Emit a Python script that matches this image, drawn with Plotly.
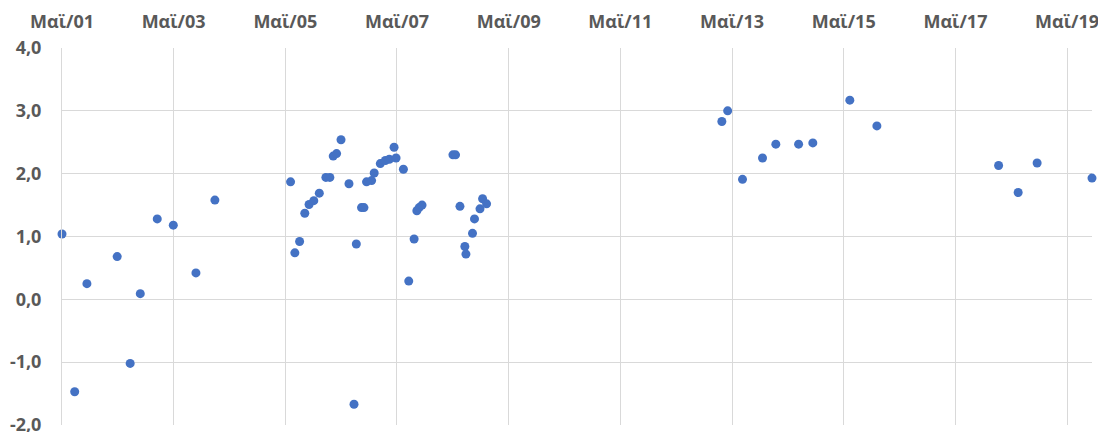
import plotly.graph_objects as go

dates = [
    "2001-05-01", "2001-07-23", "2001-10-11", "2002-04-27", "2002-07-21", "2002-09-25",
    "2003-01-14", "2003-04-29", "2003-09-24", "2004-01-26",
    "2005-06-04", "2005-07-02", "2005-08-02", "2005-09-05", "2005-10-03", "2005-11-03",
    "2005-12-09", "2006-01-21", "2006-02-16", "2006-03-10", "2006-04-01", "2006-04-30",
    "2006-06-21", "2006-07-24", "2006-08-08", "2006-09-11", "2006-09-27", "2006-10-14",
    "2006-11-16", "2006-12-03", "2007-01-12", "2007-02-14", "2007-03-12", "2007-04-12",
    "2007-04-25", "2007-06-12", "2007-07-17", "2007-08-21", "2007-09-08", "2007-09-23",
    "2007-10-12", "2008-05-01", "2008-05-18", "2008-06-16", "2008-07-18", "2008-07-25",
    "2008-09-06", "2008-09-19", "2008-10-25", "2008-11-11", "2008-12-07",
    "2013-02-23", "2013-04-02", "2013-07-08", "2013-11-16", "2014-02-11", "2014-07-10",
    "2014-10-11", "2015-06-10", "2015-12-04", "2018-02-07", "2018-06-15", "2018-10-17",
    "2019-10-11",
]
values = [
    1.04, -1.47, 0.25, 0.68, -1.02, 0.09,
    1.28, 1.18, 0.42, 1.58,
    1.87, 0.74, 0.92, 1.37, 1.51, 1.57,
    1.69, 1.94, 1.94, 2.28, 2.32, 2.54,
    1.84, -1.67, 0.88, 1.46, 1.46, 1.87,
    1.89, 2.01, 2.16, 2.21, 2.23, 2.42,
    2.25, 2.07, 0.29, 0.96, 1.41, 1.46,
    1.50, 2.30, 2.30, 1.48, 0.84, 0.72,
    1.05, 1.28, 1.44, 1.60, 1.52,
    2.83, 3.00, 1.91, 2.25, 2.47, 2.47,
    2.49, 3.17, 2.76, 2.13, 1.70, 2.17,
    1.93,
]

x_tick_vals = ["2001-05-01", "2003-05-01", "2005-05-01", "2007-05-01", "2009-05-01",
               "2011-05-01", "2013-05-01", "2015-05-01", "2017-05-01", "2019-05-01"]
x_tick_labels = ["Μαϊ/01", "Μαϊ/03", "Μαϊ/05", "Μαϊ/07", "Μαϊ/09",
                 "Μαϊ/11", "Μαϊ/13", "Μαϊ/15", "Μαϊ/17", "Μαϊ/19"]
y_tick_vals = [-2, -1, 0, 1, 2, 3, 4]
y_tick_labels = ["-2,0", "-1,0", "0,0", "1,0", "2,0", "3,0", "4,0"]

fig = go.Figure(go.Scatter(
    x=dates, y=values, mode="markers",
    marker=dict(color="#4472C4", size=9),
    cliponaxis=False,
))

tick_font = dict(family="Open Sans", size=18, color="#595959", weight="bold")

# page body has an 8px default margin, so the figure is sized to fit the window
fig.update_layout(
    width=1098, height=424,
    margin=dict(l=54, r=14, t=40, b=7),
    plot_bgcolor="white", paper_bgcolor="white",
    showlegend=False,
)
fig.update_xaxes(
    type="date", side="top", automargin=False,
    range=["2001-05-01", "2019-10-11"],
    tickvals=x_tick_vals, ticktext=x_tick_labels,
    tickfont=tick_font, ticklabelstandoff=15,
    ticklabeloverflow="allow",
    showgrid=True, gridcolor="#D9D9D9", gridwidth=1,
    zeroline=False, showline=False,
)
fig.update_yaxes(
    range=[-2, 4], automargin=False,
    tickvals=y_tick_vals, ticktext=y_tick_labels,
    tickfont=tick_font, ticklabelstandoff=16,
    ticklabeloverflow="allow",
    showgrid=True, gridcolor="#D9D9D9", gridwidth=1,
    zeroline=False, showline=True, linecolor="#D9D9D9", linewidth=1,
)

fig.write_html("out.html")
